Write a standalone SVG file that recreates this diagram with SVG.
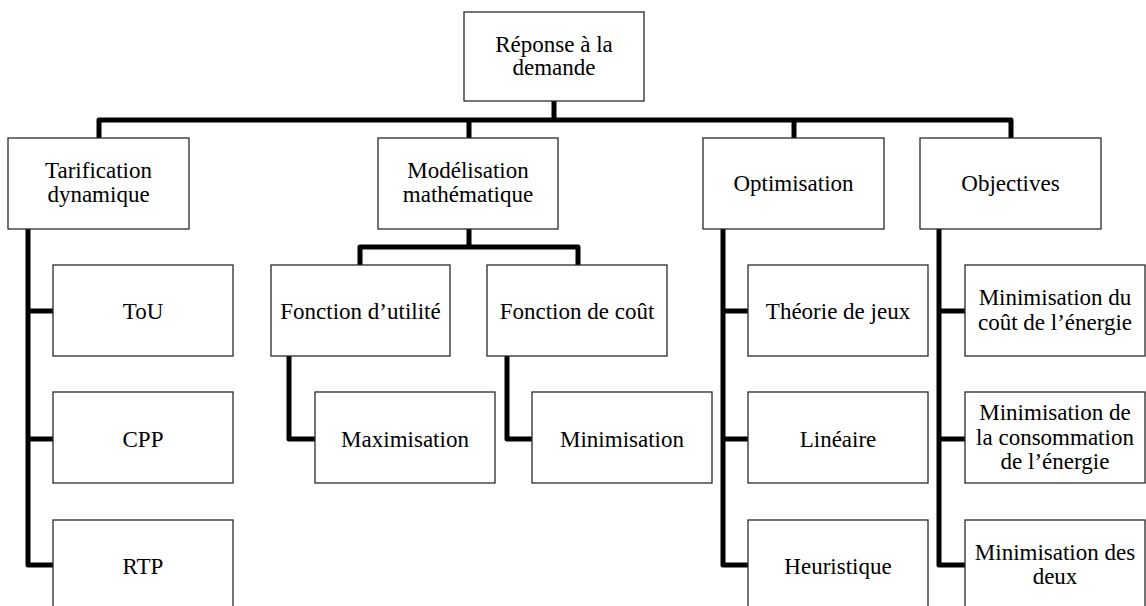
<svg xmlns="http://www.w3.org/2000/svg" width="1146" height="606" viewBox="0 0 1146 606">
<style>
.box{fill:#fff;stroke:#2a2a2a;stroke-width:1.3}
.lbl{font-family:"Liberation Serif","Times New Roman",serif;font-size:23px;fill:#000;text-anchor:middle}
.conn{fill:none;stroke:#000;stroke-width:5;stroke-linejoin:round;stroke-linecap:butt}
</style>
<rect width="1146" height="606" fill="#fff"/>
<g id="connectors">
<path class="conn" d="M554 101 V120"/>
<path class="conn" d="M99 138 V120 H1011 V138"/>
<path class="conn" d="M469 120 V138"/>
<path class="conn" d="M794 120 V138"/>
<path class="conn" d="M28 229 V565 H53"/>
<path class="conn" d="M28 311 H53"/>
<path class="conn" d="M28 439 H53"/>
<path class="conn" d="M469 229 V247"/>
<path class="conn" d="M360 265 V247 H578 V265"/>
<path class="conn" d="M289 356 V439 H315"/>
<path class="conn" d="M507 356 V439 H532"/>
<path class="conn" d="M723 229 V565 H748"/>
<path class="conn" d="M723 311 H748"/>
<path class="conn" d="M723 439 H748"/>
<path class="conn" d="M939 229 V565 H965"/>
<path class="conn" d="M939 311 H965"/>
<path class="conn" d="M939 439 H965"/>
</g>
<g id="root"><rect class="box" x="464" y="12" width="180" height="89"/>
<text class="lbl" x="554" y="52">Réponse à la</text><text class="lbl" x="554" y="75">demande</text></g>
<g id="tarification"><rect class="box" x="8" y="138" width="181" height="91"/>
<text class="lbl" x="98.5" y="178">Tarification</text><text class="lbl" x="98.5" y="202">dynamique</text></g>
<g id="modelisation"><rect class="box" x="378" y="138" width="180" height="91"/>
<text class="lbl" x="468" y="178">Modélisation</text><text class="lbl" x="468" y="202">mathématique</text></g>
<g id="optimisation"><rect class="box" x="703" y="138" width="181" height="91"/>
<text class="lbl" x="793.5" y="191">Optimisation</text></g>
<g id="objectives"><rect class="box" x="920" y="138" width="181" height="91"/>
<text class="lbl" x="1010.5" y="191">Objectives</text></g>
<g id="tou"><rect class="box" x="53" y="265" width="180" height="91"/>
<text class="lbl" x="143" y="319">ToU</text></g>
<g id="cpp"><rect class="box" x="53" y="392" width="180" height="91"/>
<text class="lbl" x="143" y="447">CPP</text></g>
<g id="rtp"><rect class="box" x="53" y="520" width="180" height="91"/>
<text class="lbl" x="143" y="574">RTP</text></g>
<g id="utilite"><rect class="box" x="271" y="265" width="179" height="91"/>
<text class="lbl" x="360.5" y="319">Fonction d’utilité</text></g>
<g id="cout"><rect class="box" x="487" y="265" width="180" height="91"/>
<text class="lbl" x="577" y="319">Fonction de coût</text></g>
<g id="maximisation"><rect class="box" x="315" y="392" width="180" height="91"/>
<text class="lbl" x="405" y="447">Maximisation</text></g>
<g id="minimisation"><rect class="box" x="532" y="392" width="180" height="91"/>
<text class="lbl" x="622" y="447">Minimisation</text></g>
<g id="jeux"><rect class="box" x="748" y="265" width="180" height="91"/>
<text class="lbl" x="838" y="319">Théorie de jeux</text></g>
<g id="lineaire"><rect class="box" x="748" y="392" width="180" height="91"/>
<text class="lbl" x="838" y="447">Linéaire</text></g>
<g id="heuristique"><rect class="box" x="748" y="520" width="180" height="91"/>
<text class="lbl" x="838" y="574">Heuristique</text></g>
<g id="obj1"><rect class="box" x="965" y="265" width="180" height="91"/>
<text class="lbl" x="1055" y="305">Minimisation du</text><text class="lbl" x="1055" y="330">coût de l’énergie</text></g>
<g id="obj2"><rect class="box" x="965" y="392" width="180" height="91"/>
<text class="lbl" x="1055" y="420">Minimisation de</text><text class="lbl" x="1055" y="445">la consommation</text><text class="lbl" x="1055" y="469">de l’énergie</text></g>
<g id="obj3"><rect class="box" x="965" y="520" width="180" height="91"/>
<text class="lbl" x="1055" y="560">Minimisation des</text><text class="lbl" x="1055" y="584">deux</text></g>
</svg>
